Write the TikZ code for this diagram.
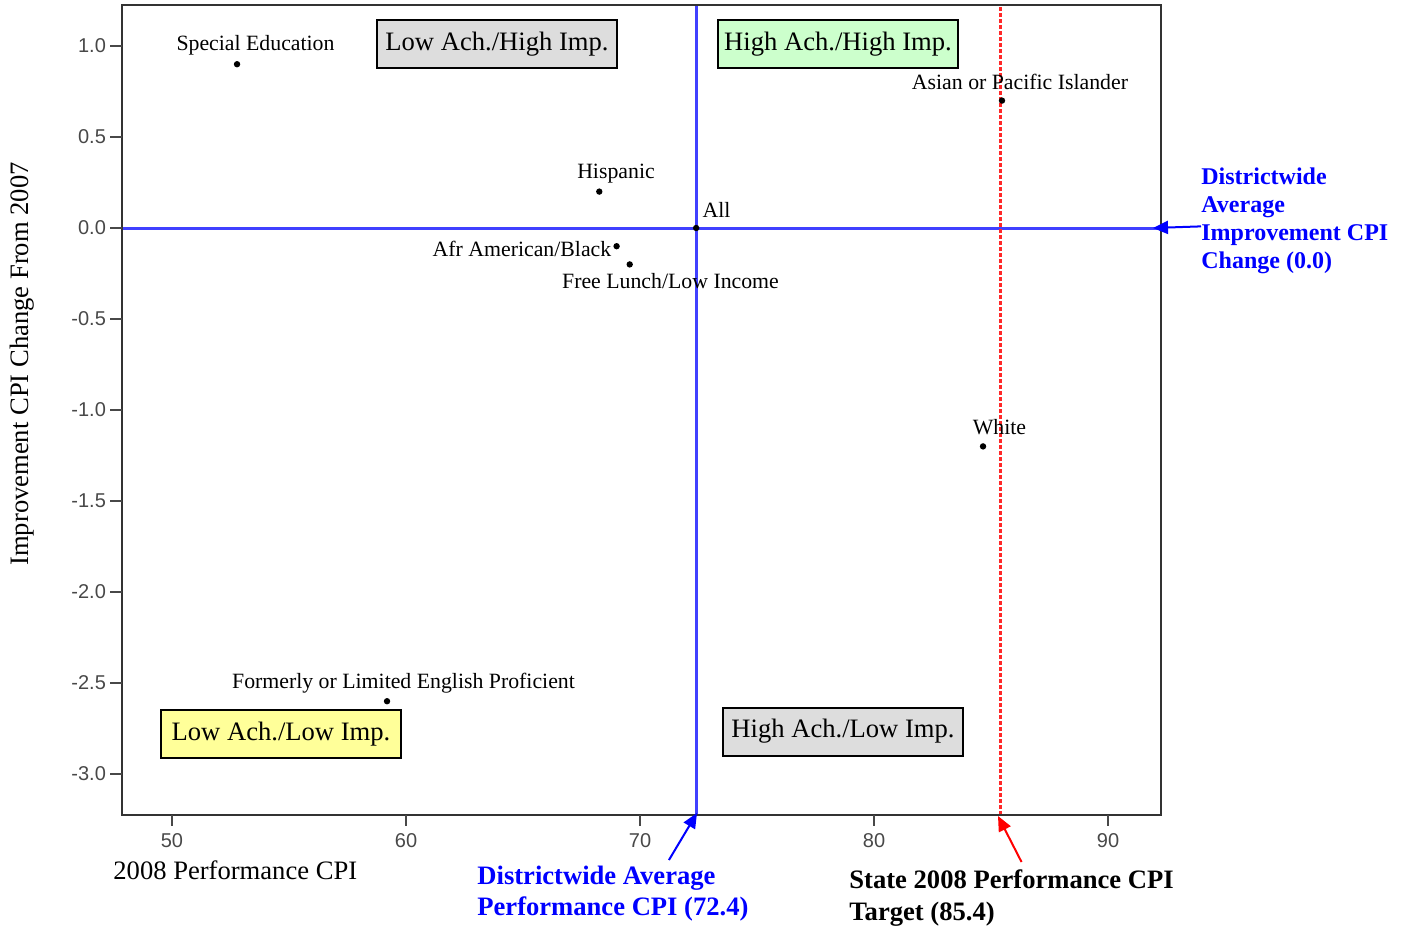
\documentclass[tikz,border=0pt]{standalone}
\usepackage{fontspec}
\setmainfont{Liberation Serif}
\setsansfont{Liberation Sans}
\usetikzlibrary{arrows.meta}
\definecolor{avgblue}{RGB}{64,64,255}
\definecolor{targetred}{RGB}{255,40,40}
\definecolor{quadgray}{RGB}{221,221,221}
\definecolor{quadgreen}{RGB}{204,255,204}
\definecolor{quadyellow}{RGB}{255,255,153}
\definecolor{axisgray}{RGB}{72,72,72}

\begin{document}
\begin{tikzpicture}[x=0.5pt,y=-0.5pt,
    quadbox/.style={draw,line width=1pt,minimum width=120pt,minimum height=24pt,
        inner sep=0pt,font=\fontsize{13.3}{16}\selectfont},
    grouplab/.style={inner sep=0pt,font=\fontsize{10.9}{12}\selectfont},
    ticklab/.style={text=axisgray,font=\sffamily\fontsize{10}{11}\selectfont},
    bluenote/.style={align=left,inner sep=0pt,anchor=north west,text=blue},
    arrowtip/.style={line width=1pt,-{Triangle[length=7.5pt,width=6.5pt]}}]
    \useasboundingbox (0,0) rectangle (1409,927);

    % the plot, in data units
    \begin{scope}[shift={(-499pt,-114pt)},x=11.7pt,y=91pt]
        \draw[avgblue,line width=1.5pt] (47.86,0) -- (92.26,0);
        \draw[avgblue,line width=1.5pt] (72.4,-3.225) -- (72.4,1.225);
        \draw[targetred,line width=1.8pt,dash pattern=on 2pt off 1pt] (85.4,-3.225) -- (85.4,1.225);
        \draw[black!80,line width=1pt] (47.86,-3.225) rectangle (92.26,1.225);
        \foreach \w/\lab in {1/1.0,0.5/0.5,0/0.0,-0.5/-0.5,-1/-1.0,-1.5/-1.5,-2/-2.0,-2.5/-2.5,-3/-3.0}
            \draw[axisgray,line width=1pt] (47.86,\w) -- ++(-6pt,0) node[ticklab,left,inner sep=1.5pt] {\lab};
        \foreach \v in {50,60,70,80,90}
            \draw[axisgray,line width=1pt] (\v,-3.225) -- ++(0,-5.5pt) node[ticklab,below,inner sep=3.5pt] {\v};
        \foreach \v/\w in {52.78/0.90,68.26/0.20,72.4/0,69.0/-0.10,69.56/-0.20,85.47/0.70,84.66/-1.20,59.19/-2.60}
            \fill (\v,\w) circle[radius=1.6pt];
    \end{scope}

    \node[grouplab] (specedlab) at (255.5,45) {Special Education};
    \node[grouplab] (hisplab) at (616,174) {Hispanic};
    \node[grouplab] (alllab) at (716.5,210) {All};
    \node[grouplab] (blacklab) at (522,249) {Afr American/Black};
    \node[grouplab] (lunchlab) at (670.5,281) {Free Lunch/Low Income};
    \node[grouplab] (asianlab) at (1020,82) {Asian or Pacific Islander};
    \node[grouplab] (whitelab) at (999.5,427) {White};
    \node[grouplab] (leplab) at (403.5,683) {Formerly or Limited English Proficient};

    \node[quadbox,fill=quadgray] (lowhigh) at (497,44) {Low Ach./High Imp.};
    \node[quadbox,fill=quadgreen] (highhigh) at (838,44) {High Ach./High Imp.};
    \node[quadbox,fill=quadyellow] (lowlow) at (281,734) {Low Ach./Low Imp.};
    \node[quadbox,fill=quadgray] (highlow) at (843,731.5) {High Ach./Low Imp.};

    \node[rotate=90,font=\fontsize{13.3}{16}\selectfont] (ytitle) at (22,364) {Improvement CPI Change From 2007};
    \node[anchor=west,inner sep=0pt,font=\fontsize{13.3}{16}\selectfont] (xtitle) at (113,870) {2008 Performance CPI};

    \node[bluenote,font=\bfseries\fontsize{12}{14}\selectfont] (impnote) at (1201,167)
        {Districtwide\\Average\\Improvement CPI\\Change (0.0)};
    \node[bluenote,font=\bfseries\fontsize{13.3}{15.5}\selectfont] (perfnote) at (477,866)
        {Districtwide Average\\Performance CPI (72.4)};
    \node[bluenote,text=black,font=\bfseries\fontsize{13.3}{16}\selectfont] (targetnote) at (849,869)
        {State 2008 Performance CPI\\Target (85.4)};

    \coordinate (imptip) at (1153,228);
    \coordinate (perftip) at (697,813);
    \coordinate (targettip) at (998,816);
    \draw[arrowtip,blue] ([yshift=-3pt]impnote.west) -- (imptip);
    \draw[arrowtip,blue] ([shift={(28pt,3pt)}]perfnote.north) -- (perftip);
    \draw[arrowtip,red] ([shift={(5pt,3.5pt)}]targetnote.north) -- (targettip);
\end{tikzpicture}
\end{document}
